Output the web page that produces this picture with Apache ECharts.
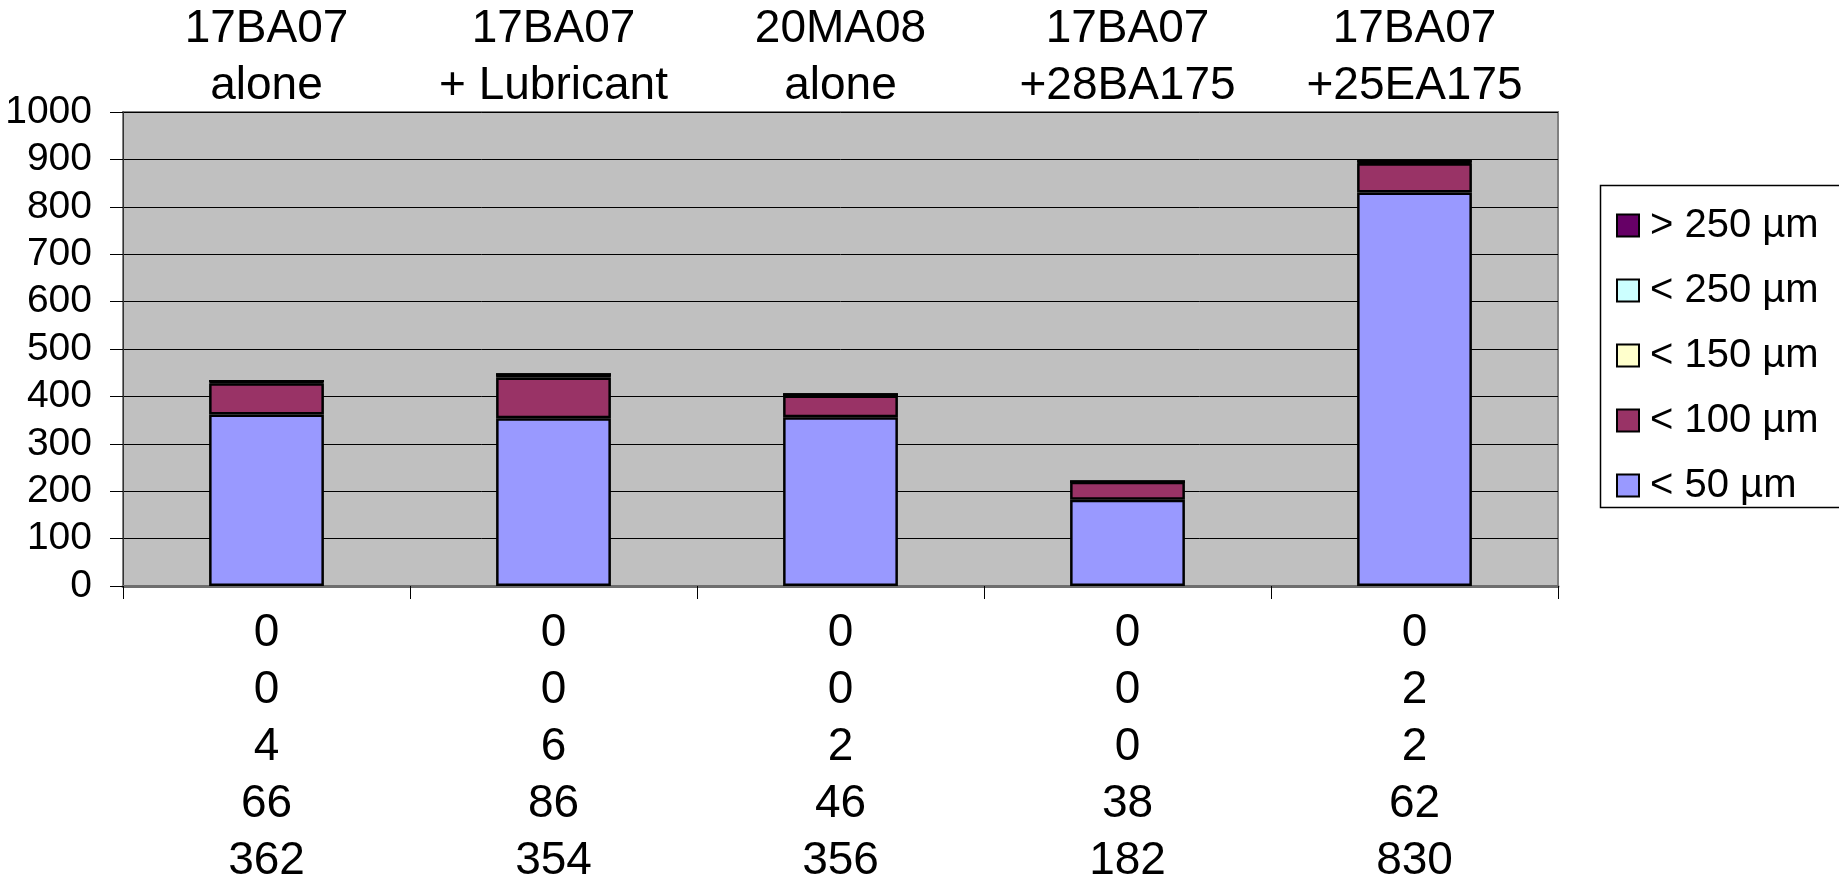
<!DOCTYPE html>
<html>
<head>
<meta charset="utf-8">
<title>Particle size distribution</title>
<script src="https://cdn.jsdelivr.net/npm/echarts@6/dist/echarts.min.js"></script>
<style>
  html, body { margin: 0; padding: 0; background: #ffffff; }
  #chart { width: 1839px; height: 882px; }
</style>
</head>
<body>
<div id="chart"></div>
<script>
// Mixtures tested (two-line headings above the plot)
const categories = ['17BA07\nalone', '17BA07\n+ Lubricant', '20MA08\nalone', '17BA07\n+28BA175', '17BA07\n+25EA175'];

// Particle counts per size class
const lt50 = [362, 354, 356, 182, 830];
const lt100 = [66, 86, 46, 38, 62];
const lt150 = [4, 6, 2, 0, 2];
const lt250 = [0, 0, 0, 0, 2];
const gt250 = [0, 0, 0, 0, 0];

// Value axis ticks
const yTicks = [0, 100, 200, 300, 400, 500, 600, 700, 800, 900, 1000];

const FONT = "'Liberation Sans', Arial, Helvetica, sans-serif";

// Stacking order bottom to top
const seriesDefs = [
  { name: '< 50 µm', data: lt50, color: '#9999FF' },
  { name: '< 100 µm', data: lt100, color: '#993366' },
  { name: '< 150 µm', data: lt150, color: '#FFFFCC' },
  { name: '< 250 µm', data: lt250, color: '#CCFFFF' },
  { name: '> 250 µm', data: gt250, color: '#660066' }
];

// Data table printed under each category: largest class on top
const tableRows = [gt250, lt250, lt150, lt100, lt50];

const chart = echarts.init(document.getElementById('chart'), null, { renderer: 'canvas' });

chart.setOption({
  animation: false,
  backgroundColor: '#ffffff',
  textStyle: { fontFamily: FONT },
  grid: {
    left: 123, right: 281, top: 112, bottom: 296,
    outerBoundsMode: 'none',
    containLabel: false,
    show: true,
    backgroundColor: '#C0C0C0',
    borderColor: '#808080',
    borderWidth: 2
  },
  legend: {
    orient: 'vertical',
    left: 1611,
    top: 200,
    data: seriesDefs.map(s => s.name).reverse(),
    icon: 'rect',
    itemWidth: 22,
    itemHeight: 22,
    itemGap: 24,
    itemStyle: { borderColor: '#000000', borderWidth: 2 },
    textStyle: { fontFamily: FONT, fontSize: 40, color: '#000000', lineHeight: 41, padding: [0, 0, 0, 6] }
  },
  graphic: [{
    type: 'rect',
    shape: { x: 1600.5, y: 185.5, width: 260, height: 322 },
    style: { fill: 'none', stroke: '#000000', lineWidth: 1.5 },
    z: -1
  }],
  xAxis: [{
    type: 'category',
    data: categories,
    position: 'bottom',
    axisLine: { show: true, lineStyle: { color: '#6e6e6e', width: 3 } },
    axisTick: { show: true, length: 13, lineStyle: { color: '#000000', width: 1 } },
    axisLabel: {
      interval: 0,
      hideOverlap: false,
      margin: 19,
      fontFamily: FONT,
      fontSize: 46,
      lineHeight: 57,
      color: '#000000',
      formatter: (v, i) => tableRows.map(r => r[i]).join('\n')
    },
    splitLine: { show: false }
  }, {
    type: 'category',
    data: categories,
    position: 'top',
    axisLine: { show: false },
    axisTick: { show: false },
    axisLabel: {
      interval: 0,
      hideOverlap: false,
      margin: -3,
      fontFamily: FONT,
      fontSize: 46,
      lineHeight: 57,
      color: '#000000'
    }
  }],
  yAxis: {
    type: 'value',
    min: yTicks[0],
    max: yTicks[yTicks.length - 1],
    interval: yTicks[1] - yTicks[0],
    axisLine: { show: true, lineStyle: { color: '#333333', width: 1 } },
    axisTick: { show: true, length: 13, lineStyle: { color: '#000000', width: 1 } },
    axisLabel: { margin: 31, fontFamily: FONT, fontSize: 39, color: '#000000', formatter: v => String(v) },
    splitLine: { show: true, lineStyle: { color: '#000000', width: 1 } }
  },
  series: seriesDefs.map(s => ({
    name: s.name,
    type: 'bar',
    stack: 'total',
    xAxisIndex: 0,
    barWidth: '40%',
    data: s.data,
    itemStyle: { color: s.color, borderColor: '#000000', borderWidth: 2.5 }
  }))
});
</script>
</body>
</html>
